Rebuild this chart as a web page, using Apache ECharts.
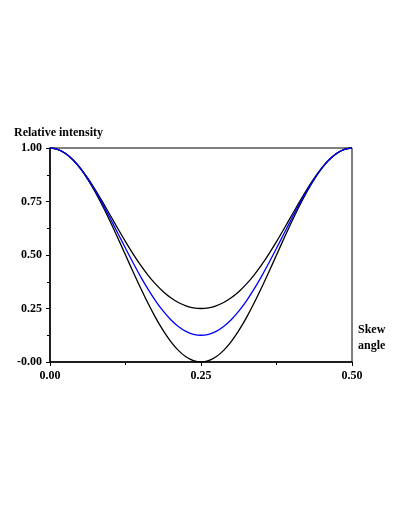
<!DOCTYPE html>
<html>
<head>
<meta charset="utf-8">
<script src="https://cdn.jsdelivr.net/npm/echarts@6/dist/echarts.min.js"></script>
<style>
  html, body { margin: 0; padding: 0; background: #fff; }
  #chart { width: 411px; height: 532px; }
</style>
</head>
<body>
<div id="chart"></div>
<script>
// skew angle samples
const skewAngles = [
  0, 0.0125, 0.025, 0.0375, 0.05, 0.0625, 0.075, 0.0875, 0.1, 0.1125,
  0.125, 0.1375, 0.15, 0.1625, 0.175, 0.1875, 0.2, 0.2125, 0.225, 0.2375,
  0.25,
  0.2625, 0.275, 0.2875, 0.3, 0.3125, 0.325, 0.3375, 0.35, 0.3625,
  0.375, 0.3875, 0.4, 0.4125, 0.425, 0.4375, 0.45, 0.4625, 0.475, 0.4875,
  0.5
]

// upper black curve (min 0.25)
const outerValues = [
  1, 0.9939, 0.9757, 0.9462, 0.9068, 0.8589, 0.8045, 0.7456, 0.6844, 0.6227,
  0.5625, 0.5054, 0.4526, 0.4051, 0.3637, 0.3286, 0.3000, 0.2780, 0.2624, 0.2531,
  0.25,
  0.2531, 0.2624, 0.2780, 0.3000, 0.3286, 0.3637, 0.4051, 0.4526, 0.5054,
  0.5625, 0.6227, 0.6844, 0.7456, 0.8045, 0.8589, 0.9068, 0.9462, 0.9757, 0.9939,
  1
]

// blue curve (min 0.125)
const blueValues = [
  1, 0.9938, 0.9756, 0.9459, 0.9057, 0.8562, 0.7992, 0.7363, 0.6694, 0.6005,
  0.5313, 0.4636, 0.3990, 0.3391, 0.2849, 0.2375, 0.1978, 0.1662, 0.1434, 0.1296,
  0.125,
  0.1296, 0.1434, 0.1662, 0.1978, 0.2375, 0.2849, 0.3391, 0.3990, 0.4636,
  0.5313, 0.6005, 0.6694, 0.7363, 0.7992, 0.8562, 0.9057, 0.9459, 0.9756, 0.9938,
  1
]

// lower black curve (min 0)
const innerValues = [
  1, 0.9938, 0.9755, 0.9455, 0.9045, 0.8536, 0.7939, 0.7270, 0.6545, 0.5782,
  0.5, 0.4218, 0.3455, 0.2730, 0.2061, 0.1464, 0.0955, 0.0545, 0.0245, 0.0062,
  0,
  0.0062, 0.0245, 0.0545, 0.0955, 0.1464, 0.2061, 0.2730, 0.3455, 0.4218,
  0.5, 0.5782, 0.6545, 0.7270, 0.7939, 0.8536, 0.9045, 0.9455, 0.9755, 0.9938,
  1
]

const xTickLabels = { 0: '0.00', 0.25: '0.25', 0.5: '0.50' }
const yTickLabels = { 0: '-0.00', 0.25: '0.25', 0.5: '0.50', 0.75: '0.75', 1: '1.00' }

const font = {
  fontFamily: 'Liberation Serif',
  fontWeight: 'bold',
  fontSize: 12,
  color: '#000'
}

const pairs = (vals) => skewAngles.map((x, i) => [x, vals[i]])

const makeSeries = (vals, color) => ({
  type: 'line',
  data: pairs(vals),
  smooth: 0.3,
  showSymbol: false,
  lineStyle: { color: color, width: 1.3 },
  silent: true
})

const chart = echarts.init(document.getElementById('chart'), null, { renderer: 'canvas' })

const option = {
  animation: false,
  backgroundColor: '#fff',
  grid: {
    left: 50,
    right: 59,
    top: 148,
    bottom: 170,
    show: true,
    borderColor: '#000',
    borderWidth: 1
  },
  xAxis: {
    type: 'value',
    min: 0,
    max: 0.5,
    interval: 0.25,
    axisLine: { show: true, lineStyle: { color: '#000', width: 1.5 } },
    axisTick: { show: true, length: 4, lineStyle: { color: '#000' } },
    minorTick: { show: true, splitNumber: 2, length: 3, lineStyle: { color: '#000' } },
    splitLine: { show: false },
    axisLabel: Object.assign({ margin: 8, formatter: (v) => xTickLabels[v] ?? '' }, font)
  },
  yAxis: {
    type: 'value',
    min: 0,
    max: 1,
    interval: 0.25,
    axisLine: { show: true, lineStyle: { color: '#000', width: 1.5 } },
    axisTick: { show: true, length: 4, lineStyle: { color: '#000' } },
    minorTick: { show: true, splitNumber: 2, length: 3, lineStyle: { color: '#000' } },
    splitLine: { show: false },
    axisLabel: Object.assign({ margin: 8, formatter: (v) => yTickLabels[v] ?? '' }, font)
  },
  graphic: [
    {
      type: 'text',
      left: 14,
      top: 127,
      style: {
        text: 'Relative intensity',
        fill: '#000',
        font: 'bold 12px "Liberation Serif"'
      }
    },
    {
      type: 'text',
      left: 358,
      top: 322,
      style: {
        text: 'Skew\nangle',
        fill: '#000',
        font: 'bold 12px "Liberation Serif"',
        lineHeight: 16
      }
    }
  ],
  series: [
    makeSeries(outerValues, '#000'),
    makeSeries(innerValues, '#000'),
    makeSeries(blueValues, '#0000ff')
  ]
}

chart.setOption(option)
</script>
</body>
</html>
